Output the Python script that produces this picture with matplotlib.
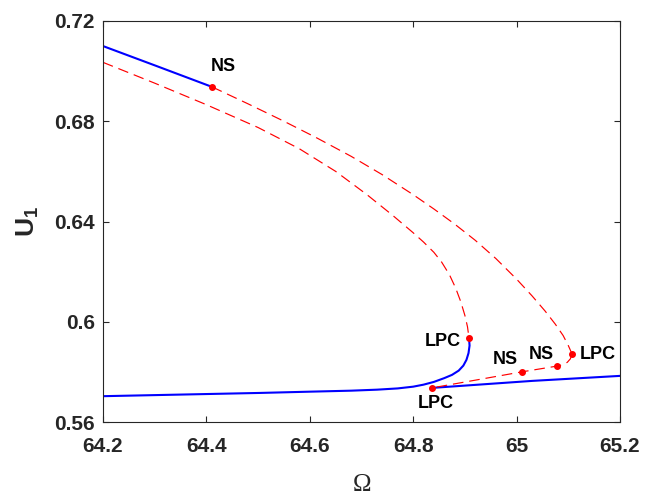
import matplotlib
matplotlib.use("Agg")
import matplotlib.pyplot as plt

# ---- frequency-response branches: Omega (x) and U1 (y) ----
# stable upper branch (solid blue), ends at the NS point
UP_STAB_W = [64.200, 64.304, 64.411]
UP_STAB_U = [0.7100, 0.7020, 0.6937]
# unstable outer branch, NS -> right LPC (dashed red)
OUT_W = [64.411, 64.480, 64.550, 64.614, 64.680, 64.740, 64.800, 64.840, 64.880,
         64.920, 64.960, 65.000, 65.030, 65.055, 65.075, 65.090, 65.100, 65.105, 65.107]
OUT_U = [0.6937, 0.6870, 0.6800, 0.6733, 0.6660, 0.6587, 0.6507, 0.6450, 0.6390,
         0.6325, 0.6252, 0.6170, 0.6103, 0.6043, 0.5990, 0.5945, 0.5905, 0.5882, 0.5871]
# unstable lower branch, right LPC -> NS -> NS -> bottom LPC (dashed red)
LOW_W = [65.107, 65.104, 65.098, 65.090, 65.078, 65.010, 64.836]
LOW_U = [0.5871, 0.5852, 0.5838, 0.5829, 0.5823, 0.5800, 0.5736]
# unstable inner branch, left edge -> upper LPC (dashed red)
IN_W = [64.200, 64.300, 64.400, 64.500, 64.580, 64.650, 64.710, 64.760, 64.800,
        64.820, 64.840, 64.855, 64.870, 64.882, 64.892, 64.900, 64.905, 64.908]
IN_U = [0.7035, 0.6952, 0.6866, 0.6775, 0.6690, 0.6600, 0.6508, 0.6425, 0.6355,
        0.6318, 0.6277, 0.6238, 0.6188, 0.6135, 0.6080, 0.6025, 0.5980, 0.5935]
# stable lower-left branch (solid blue), ends at upper LPC
LL_STAB_W = [64.200, 64.504, 64.600, 64.680, 64.730, 64.770, 64.800, 64.820, 64.840,
             64.860, 64.875, 64.888, 64.897, 64.903, 64.907, 64.909, 64.908]
LL_STAB_U = [0.5703, 0.5716, 0.5721, 0.5725, 0.5729, 0.5734, 0.5741, 0.5749, 0.5760,
             0.5775, 0.5788, 0.5805, 0.5825, 0.5848, 0.5875, 0.5905, 0.5935]
# stable lower-right branch (solid blue), from bottom LPC
LR_STAB_W = [64.836, 65.030, 65.200]
LR_STAB_U = [0.5736, 0.5764, 0.5784]

# bifurcation points
NS_W = [64.411, 65.010, 65.078]
NS_U = [0.6937, 0.5800, 0.5823]
LPC_W = [64.908, 65.107, 64.836]
LPC_U = [0.5935, 0.5871, 0.5736]

XTICKS = [64.2, 64.4, 64.6, 64.8, 65.0, 65.2]
XTICKLABELS = ["64.2", "64.4", "64.6", "64.8", "65", "65.2"]
YTICKS = [0.56, 0.60, 0.64, 0.68, 0.72]
YTICKLABELS = ["0.56", "0.6", "0.64", "0.68", "0.72"]

plt.rcParams["font.family"] = ["Liberation Sans", "DejaVu Sans"]
plt.rcParams["mathtext.fontset"] = "custom"
plt.rcParams["mathtext.bf"] = "Liberation Sans:bold"
plt.rcParams["mathtext.rm"] = "Liberation Sans"

fig = plt.figure(figsize=(6.45, 4.95), dpi=100)
ax = fig.add_axes([103 / 645, 1 - 422 / 495, 517 / 645, 401 / 495])

dash = (0, (9, 5))
ax.plot(UP_STAB_W, UP_STAB_U, color="blue", lw=1.5)
ax.plot(LL_STAB_W, LL_STAB_U, color="blue", lw=1.5)
ax.plot(LR_STAB_W, LR_STAB_U, color="blue", lw=1.5)
ax.plot(OUT_W, OUT_U, color="red", lw=0.85, ls=dash)
ax.plot(LOW_W, LOW_U, color="red", lw=0.85, ls=dash)
ax.plot(IN_W, IN_U, color="red", lw=0.85, ls=dash)
ax.plot(NS_W + LPC_W, NS_U + LPC_U, "o", color="red", ms=4, ls="none", zorder=4)

# label offsets (points) relative to each bifurcation point
ns_off = [(8, 15), (-12, 9), (-11, 8)]
lpc_off = [(-19, -2.5), (19, 0), (3, -11)]
for w, u, off in zip(NS_W, NS_U, ns_off):
    ax.annotate("NS", (w, u), xytext=off, textcoords="offset points",
                ha="center", va="center", fontsize=13, fontweight="bold")
for w, u, off in zip(LPC_W, LPC_U, lpc_off):
    ax.annotate("LPC", (w, u), xytext=off, textcoords="offset points",
                ha="center", va="center", fontsize=13, fontweight="bold")

ax.set_xlim(64.2, 65.2)
ax.set_ylim(0.56, 0.72)
ax.set_xticks(XTICKS)
ax.set_xticklabels(XTICKLABELS)
ax.set_yticks(YTICKS)
ax.set_yticklabels(YTICKLABELS)
ax.tick_params(direction="in", top=True, right=True, length=4.5, width=0.8,
               color="#262626", labelcolor="#262626", labelsize=15)
ax.tick_params(axis="x", pad=11)
ax.tick_params(axis="y", pad=6)
for lab in ax.get_xticklabels() + ax.get_yticklabels():
    lab.set_fontweight("bold")
for s in ax.spines.values():
    s.set_color("#262626")
    s.set_linewidth(0.8)

ax.set_xlabel("Ω", fontsize=18, family=["Liberation Serif", "DejaVu Serif"], color="#262626")
ax.xaxis.set_label_coords(0.5, -0.13)
ax.set_ylabel(r"$\mathbf{U}_\mathbf{1}$", fontsize=19, color="#262626")
ax.yaxis.set_label_coords(-0.12, 0.5)

fig.savefig("out.png", dpi=100)
